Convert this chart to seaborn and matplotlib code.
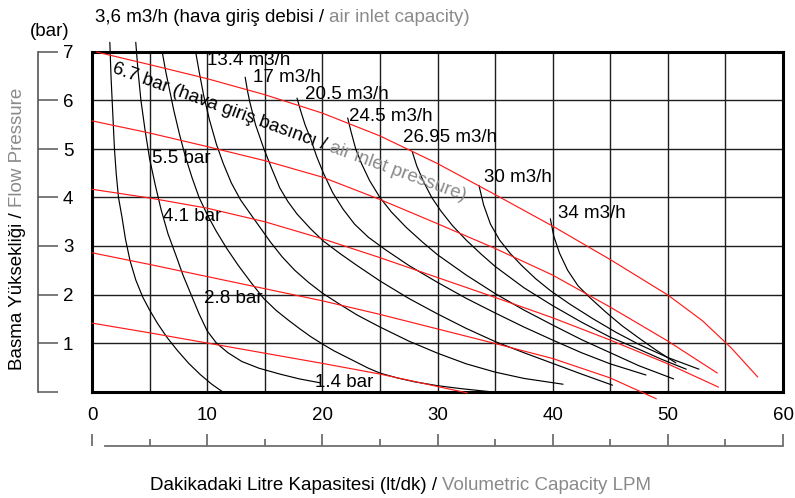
import numpy as np
import pandas as pd
import matplotlib
matplotlib.use("Agg")
import matplotlib.pyplot as plt
import seaborn as sns

# air inlet pressure lines (red), x = l/min, y = bar
p67_x = [0.4, 5, 10, 15, 20, 25, 30, 35, 40, 45, 50, 53, 55.5, 57.8]
p67_y = [7.0, 6.74, 6.45, 6.12, 5.74, 5.27, 4.7, 4.06, 3.41, 2.72, 1.99, 1.46, 0.9, 0.3]
p55_x = [0, 5, 10, 15, 20, 25, 30, 35, 40, 45, 50, 54.3]
p55_y = [5.58, 5.33, 5.05, 4.76, 4.42, 3.96, 3.46, 2.95, 2.4, 1.74, 1.04, 0.38]
p41_x = [0, 5, 10, 15, 20, 25, 30, 35, 40, 45, 50, 54.4]
p41_y = [4.17, 3.99, 3.78, 3.5, 3.15, 2.76, 2.35, 1.94, 1.52, 1.06, 0.57, 0.09]
p28_x = [0, 5, 10, 15, 20, 25, 30, 35, 40, 45, 49]
p28_y = [2.86, 2.62, 2.37, 2.12, 1.87, 1.59, 1.29, 0.99, 0.68, 0.28, -0.15]
p14_x = [0, 5, 10, 15, 20, 25, 32.6]
p14_y = [1.41, 1.21, 1.0, 0.79, 0.58, 0.36, -0.03]

# air inlet capacity lines (black)
q36_x = [1.55, 1.65, 1.75, 1.85, 1.95, 2.1, 2.3, 2.6, 2.9, 3.3, 3.8, 4.4, 5.0, 5.7, 6.5, 7.4, 8.4, 9.4, 10.4, 11.3]
q36_y = [7.2, 6.5, 6.0, 5.5, 5.0, 4.5, 4.0, 3.6, 3.15, 2.7, 2.3, 1.95, 1.68, 1.4, 1.12, 0.85, 0.58, 0.35, 0.15, 0.0]
q07_x = [3.8, 4.0, 4.25, 4.6, 5.0, 5.5, 6.0, 6.6, 7.3, 7.9, 8.6, 9.3, 10.0, 10.8, 11.8, 13.0, 14.5, 16.3, 18.0, 19.8]
q07_y = [7.2, 6.6, 6.0, 5.4, 4.8, 4.25, 3.75, 3.25, 2.8, 2.4, 2.0, 1.6, 1.25, 1.0, 0.8, 0.62, 0.48, 0.36, 0.26, 0.18]
q10_x = [6.1, 6.4, 6.75, 7.1, 7.6, 8.1, 8.7, 9.3, 10.0, 10.8, 11.7, 12.7, 13.8, 14.9, 16, 17, 18, 19, 20,
         21, 22, 23, 24, 25, 26.5, 28, 30, 32, 34.4]
q10_y = [7.0, 6.6, 6.2, 5.8, 5.3, 4.85, 4.4, 4.0, 3.65, 3.3, 2.95, 2.6, 2.25, 1.92, 1.67, 1.48, 1.3, 1.13, 0.98,
         0.84, 0.72, 0.6, 0.48, 0.38, 0.28, 0.2, 0.12, 0.06, 0.0]
q134_x = [9.0, 9.3, 9.7, 10.2, 10.8, 11.4, 12.1, 12.9, 13.7, 14.6, 15.5, 16.5, 17.6, 18.8, 20, 21.5, 23, 25,
          27.5, 30, 32.5, 35, 37.5, 40.9]
q134_y = [7.0, 6.6, 6.1, 5.6, 5.1, 4.7, 4.3, 3.95, 3.68, 3.38, 3.08, 2.78, 2.5, 2.25, 2.03, 1.8, 1.58, 1.33,
          1.04, 0.79, 0.57, 0.4, 0.27, 0.15]
q17_x = [13.3, 13.5, 13.7, 14.2, 14.9, 15.6, 16.3, 17.0, 17.8, 19.0, 20.1, 21.5, 23, 25, 27.5, 30, 32.5, 35,
         37.5, 40, 42.5, 45.2]
q17_y = [6.48, 6.2, 5.97, 5.5, 5.02, 4.6, 4.2, 3.92, 3.66, 3.35, 3.1, 2.85, 2.6, 2.28, 1.92, 1.6, 1.3, 1.03,
         0.8, 0.58, 0.36, 0.13]
q205_x = [17.8, 18.1, 18.5, 19.0, 19.5, 20.1, 20.9, 21.8, 22.8, 24.0, 25.5, 27.5, 30, 32.5, 35, 37.5, 40,
          42.5, 45, 48.1]
q205_y = [6.05, 5.8, 5.5, 5.2, 4.85, 4.5, 4.1, 3.76, 3.45, 3.18, 2.92, 2.6, 2.25, 1.92, 1.62, 1.33, 1.06,
          0.8, 0.57, 0.34]
q245_x = [22.2, 22.5, 22.9, 23.4, 24.1, 25.0, 26.0, 27.3, 28.7, 30, 32.5, 35, 37.5, 40, 42.5, 45, 47.5, 50.5]
q245_y = [5.64, 5.35, 5.0, 4.7, 4.35, 4.0, 3.7, 3.38, 3.08, 2.82, 2.4, 2.02, 1.68, 1.37, 1.07, 0.8, 0.53, 0.26]
q2695_x = [27.8, 28.2, 28.8, 29.5, 30.3, 31.3, 32.5, 33.8, 35, 37.5, 40, 42.5, 45, 47.5, 49.5, 51.6]
q2695_y = [4.95, 4.65, 4.32, 4.0, 3.72, 3.42, 3.12, 2.83, 2.58, 2.14, 1.77, 1.43, 1.12, 0.87, 0.66, 0.46]
q30_x = [33.6, 34.0, 34.6, 35.4, 36.3, 37.3, 38.5, 39.8, 41.5, 43.5, 45.5, 47.5, 50, 52.7]
q30_y = [4.25, 3.85, 3.45, 3.12, 2.85, 2.6, 2.33, 2.08, 1.8, 1.5, 1.22, 0.97, 0.7, 0.46]
q34_x = [39.8, 40.1, 40.6, 41.3, 42.2, 43.3, 44.6, 46, 47.5, 49, 50.7]
q34_y = [3.56, 3.2, 2.85, 2.5, 2.18, 1.92, 1.64, 1.36, 1.1, 0.85, 0.59]

pressure_lines = {"6.7": (p67_x, p67_y), "5.5": (p55_x, p55_y), "4.1": (p41_x, p41_y),
                  "2.8": (p28_x, p28_y), "1.4": (p14_x, p14_y)}
capacity_lines = {"3.6": (q36_x, q36_y), "7": (q07_x, q07_y), "10": (q10_x, q10_y),
                  "13.4": (q134_x, q134_y), "17": (q17_x, q17_y), "20.5": (q205_x, q205_y),
                  "24.5": (q245_x, q245_y), "26.95": (q2695_x, q2695_y), "30": (q30_x, q30_y),
                  "34": (q34_x, q34_y)}

cap_labels = ["13.4 m3/h", "17 m3/h", "20.5 m3/h", "24.5 m3/h", "26.95 m3/h", "30 m3/h", "34 m3/h"]
cap_label_x = [10.0, 14.0, 18.5, 22.3, 27.0, 34.0, 40.5]
cap_label_y = [6.82, 6.47, 6.13, 5.68, 5.24, 4.41, 3.66]
bar_labels = ["5.5 bar", "4.1 bar", "2.8 bar", "1.4 bar"]
bar_label_x = [5.2, 6.2, 9.7, 19.4]
bar_label_y = [4.80, 3.61, 1.91, 0.18]

GRAY = "#8a8a8a"
FS = 13.5
W, H = 795, 498

sns.set_theme(style="white")
plt.rcParams["font.family"] = ["Liberation Sans", "DejaVu Sans"]
plt.rcParams["font.size"] = FS
plt.rcParams["text.color"] = "black"
plt.rcParams["xtick.color"] = "black"
plt.rcParams["ytick.color"] = "black"

fig = plt.figure(figsize=(W / 100, H / 100), dpi=100)
ax = fig.add_axes([92 / W, 1 - 391.5 / H, (783 - 92) / W, (391.5 - 52) / H])

rows = []
for name, (xs, ys) in pressure_lines.items():
    rows += [{"kind": "p", "line": name, "x": a, "y": b} for a, b in zip(xs, ys)]
for name, (xs, ys) in capacity_lines.items():
    rows += [{"kind": "q", "line": name, "x": a, "y": b} for a, b in zip(xs, ys)]
df = pd.DataFrame(rows)

for name, g in df[df.kind == "q"].groupby("line", sort=False):
    sns.lineplot(data=g, x="x", y="y", sort=False, estimator=None, color="black",
                 lw=0.85, ax=ax, clip_on=False, zorder=3)
for name, g in df[df.kind == "p"].groupby("line", sort=False):
    sns.lineplot(data=g, x="x", y="y", sort=False, estimator=None, color="#ff1a1a",
                 lw=0.85, ax=ax, clip_on=False, zorder=4)

ax.set_xlim(0, 60)
ax.set_ylim(0, 7)
ax.set_xticks(range(0, 61, 10))
ax.set_xticks(range(5, 60, 10), minor=True)
ax.set_yticks(range(0, 8))
ax.set_yticklabels([])
ax.grid(True, which="both", color="#1e1e1e", lw=1.0)
ax.tick_params(axis="x", length=0, pad=11, labelsize=FS, labelcolor="black")
ax.tick_params(axis="y", length=0)
ax.tick_params(which="minor", length=0)
ax.set_xlabel("")
ax.set_ylabel("")
for s in ax.spines.values():
    s.set_visible(True)
    s.set_color("black")
    s.set_linewidth(2.2)

for t, x, y in zip(cap_labels, cap_label_x, cap_label_y):
    ax.text(x, y, t, ha="left", va="center", fontsize=FS, zorder=5)
for t, x, y in zip(bar_labels, bar_label_x, bar_label_y):
    ax.text(x, y, t, ha="left", va="center", fontsize=FS, zorder=5)

# separate left pressure scale
ay = fig.add_axes([38 / W, 1 - 391.5 / H, 0.0001, (391.5 - 52) / H])
ay.set_ylim(0, 7)
ay.set_xticks([])
ay.yaxis.tick_right()
ay.set_yticks(range(0, 8))
ay.set_yticklabels([""] + [str(i) for i in range(1, 8)])
ay.tick_params(axis="y", right=True, direction="out", length=14.4, width=1.3, color="#6f6f6f",
               pad=3.5, labelsize=FS, labelcolor="black")
for k in ["left", "top", "bottom"]:
    ay.spines[k].set_visible(False)
ay.spines["right"].set_color("#555555")
ay.spines["right"].set_linewidth(1.2)
ay.patch.set_alpha(0)

# separate bottom flow scale
axb = fig.add_axes([92 / W, 1 - 446 / H, (783 - 92) / W, 0.0001])
axb.set_xlim(0, 60)
axb.set_yticks([])
axb.set_xticks(range(0, 61, 10))
axb.set_xticks(range(5, 60, 10), minor=True)
axb.set_xticklabels([])
axb.tick_params(axis="x", which="major", bottom=True, direction="in", length=8.5, width=1.3, color="#6f6f6f")
axb.tick_params(axis="x", which="minor", bottom=True, direction="in", length=5, width=1.3, color="#6f6f6f")
for k in ["left", "top", "right"]:
    axb.spines[k].set_visible(False)
axb.spines["bottom"].set_bounds(1.1, 60)
axb.spines["bottom"].set_color("#6f6f6f")
axb.spines["bottom"].set_linewidth(1.3)
axb.patch.set_alpha(0)

# title, axis titles
t1 = fig.text(95 / W, 1 - 17 / H, "3,6 m3/h (hava giriş debisi / ", ha="left", va="center", fontsize=FS)
ax.annotate("air inlet capacity)", xy=(1, 0), xycoords=t1, ha="left", va="bottom", color=GRAY, fontsize=FS,
            annotation_clip=False)
fig.text(50 / W, 1 - 32 / H, "(bar)", ha="center", va="center", fontsize=FS)

x1 = fig.text(150 / W, 1 - 485 / H, "Dakikadaki Litre Kapasitesi (lt/dk) / ", ha="left", va="center", fontsize=FS)
ax.annotate("Volumetric Capacity LPM", xy=(1, 0), xycoords=x1, ha="left", va="bottom", color=GRAY, fontsize=FS,
            annotation_clip=False)

y1 = fig.text(18 / W, 1 - 370 / H, "Basma Yüksekliği / ", rotation=90, ha="center", va="bottom", fontsize=FS)
ax.annotate("Flow Pressure", xy=(0, 1), xycoords=y1, rotation=90, ha="left", va="bottom", color=GRAY,
            fontsize=FS, annotation_clip=False)

# rotated pressure caption in two colours
fig.canvas.draw()
r = fig.canvas.get_renderer()
s1 = "6.7 bar (hava giriş basıncı / "
s2 = "air inlet pressure)"
ang = -20
tmp = fig.text(0, 0, s1, fontsize=FS)
w = tmp.get_window_extent(r).width
tmp.remove()
x0, y0 = 1.65, 6.59
ax.text(x0, y0, s1, rotation=ang, rotation_mode="anchor", ha="left", va="baseline", fontsize=FS, zorder=5)
p0 = ax.transData.transform((x0, y0))
p1 = p0 + w * np.array([np.cos(np.radians(ang)), np.sin(np.radians(ang))])
xa, ya = ax.transData.inverted().transform(p1)
ax.text(xa, ya, s2, rotation=ang, rotation_mode="anchor", ha="left", va="baseline", fontsize=FS,
        color=GRAY, zorder=5)

fig.savefig("out.png", dpi=100)
